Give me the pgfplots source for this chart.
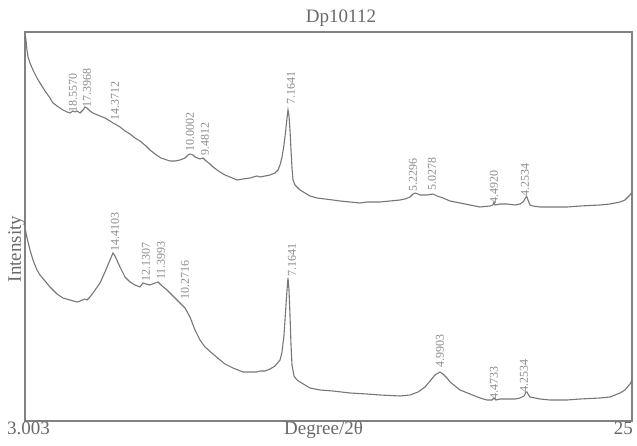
\documentclass[border=0pt]{standalone}
\usepackage{fontspec}
\setmainfont{Liberation Serif}
\usepackage{pgfplots}
\pgfplotsset{compat=1.18}
\definecolor{curvegray}{RGB}{118,118,118}
\definecolor{framegray}{RGB}{130,130,130}
\definecolor{textgray}{RGB}{105,105,105}
\definecolor{labelgray}{RGB}{140,140,140}
\begin{document}
\begin{tikzpicture}
\useasboundingbox (-25pt,-24pt) rectangle (612pt,421pt);
\begin{axis}[
  at={(0,0)}, anchor=south west,
  scale only axis, width=607pt, height=389pt,
  xmin=3.003, xmax=25, ymin=0, ymax=389,
  xtick=\empty, ytick=\empty,
  axis line style={framegray, line width=1.1pt},
  title={Dp10112},
  title style={at={(axis description cs:0.5206,1)}, anchor=base, yshift=3pt, font=\fontsize{19}{20}\selectfont, text=textgray},
  ylabel={Intensity},
  ylabel style={at={(axis description cs:0,0.442)}, anchor=base, yshift=4pt, font=\fontsize{19}{20}\selectfont, text=textgray},
  clip mode=individual,
]
% upper pattern
\addplot[curvegray, line width=1.1pt] coordinates {
(3.020,385) (3.039,381) (3.075,371) (3.112,364) (3.184,358) (3.293,351) (3.438,343)
(3.547,338) (3.728,330) (3.909,323) (4.018,318) (4.163,315) (4.271,313) (4.380,311)
(4.525,309) (4.634,308) (4.742,310) (4.815,309) (4.887,310) (4.996,308) (5.105,311)
(5.177,314) (5.250,313) (5.358,310) (5.467,308) (5.721,305) (5.902,303) (6.083,300)
(6.192,298) (6.264,297) (6.446,294) (6.627,290) (6.808,287) (6.989,283) (7.170,280)
(7.388,275) (7.533,271) (7.714,267) (7.931,263) (8.149,261) (8.258,260) (8.439,260)
(8.620,261) (8.801,263) (8.910,266) (8.982,267) (9.091,266) (9.164,264) (9.345,262)
(9.454,263) (9.526,261) (9.707,257) (9.816,254) (9.961,251) (10.070,249) (10.251,246)
(10.432,244) (10.686,241) (10.903,242) (11.157,243) (11.410,245) (11.519,244)
(11.700,245) (11.882,246) (12.063,248) (12.172,251) (12.244,256) (12.317,264)
(12.389,276) (12.461,293) (12.498,303) (12.534,311) (12.570,305) (12.606,291)
(12.643,271) (12.679,253) (12.715,241) (12.787,236) (12.969,231) (13.150,228)
(13.331,225) (13.585,223) (13.875,222) (14.164,221) (14.418,220) (14.781,219)
(15.143,218) (15.396,219) (15.868,219) (16.230,220) (16.593,221) (16.774,222)
(16.955,224) (17.064,227) (17.136,228) (17.245,227) (17.317,226) (17.571,226)
(17.788,227) (17.933,225) (18.151,223) (18.405,220) (18.767,218) (19.129,216)
(19.492,214) (19.854,215) (19.962,216) (19.999,219) (20.035,216) (20.216,217)
(20.470,217) (20.760,216) (20.941,217) (21.050,219) (21.122,222) (21.158,224)
(21.195,224) (21.231,221) (21.303,216) (21.412,215) (21.666,214) (22.028,214)
(22.644,214) (23.115,215) (23.840,216) (24.202,217) (24.565,219) (24.746,221)
(24.927,226) (25.000,229)
};
% lower pattern
\addplot[curvegray, line width=1.1pt] coordinates {
(3.020,191) (3.039,188) (3.112,179) (3.184,171) (3.293,161) (3.438,151) (3.547,146)
(3.728,140) (3.909,134) (4.163,127) (4.380,123) (4.634,121) (4.887,119) (4.996,120)
(5.177,122) (5.250,121) (5.358,124) (5.467,128) (5.721,138) (5.902,149) (6.083,161)
(6.192,168) (6.264,165) (6.446,154) (6.627,144) (6.808,139) (6.989,136) (7.170,134)
(7.279,138) (7.388,137) (7.533,136) (7.714,138) (7.823,139) (7.931,136) (8.149,131)
(8.439,123) (8.620,118) (8.801,113) (8.982,104) (9.164,91) (9.345,81) (9.526,74)
(9.816,67) (10.070,61) (10.251,57) (10.541,53) (10.903,49) (11.157,49) (11.410,49)
(11.519,50) (11.700,50) (11.882,52) (12.063,55) (12.244,61) (12.317,69) (12.389,86)
(12.461,116) (12.498,131) (12.534,143) (12.570,131) (12.606,106) (12.643,76)
(12.679,56) (12.751,45) (12.860,41) (12.969,39) (13.150,36) (13.331,33) (13.693,31)
(14.164,30) (14.781,28) (15.396,27) (15.868,26) (16.593,25) (16.955,26) (17.245,29)
(17.499,34) (17.680,40) (17.861,46) (18.042,49) (18.151,47) (18.296,43) (18.405,39)
(18.586,35) (18.767,31) (19.129,27) (19.492,23) (19.745,21) (19.926,21) (19.999,23)
(20.071,21) (20.216,22) (20.470,22) (20.760,22) (20.941,23) (21.086,25) (21.158,29)
(21.195,29) (21.231,27) (21.303,24) (21.485,23) (21.666,22) (22.028,21) (22.644,21)
(23.115,22) (23.840,23) (24.202,24) (24.565,28) (24.746,31) (24.927,37) (25.000,41)
};
% peak labels
\begin{scope}[every node/.style={rotate=90, anchor=west, inner sep=0pt, text=labelgray, font=\fontsize{12}{12}\selectfont}]
\node at (axis cs:4.742,308) {18.5570};
\node at (axis cs:5.250,313) {17.3968};
\node at (axis cs:6.264,300) {14.3712};
\node at (axis cs:8.982,269) {10.0002};
\node at (axis cs:9.526,265) {9.4812};
\node at (axis cs:12.643,316) {7.1641};
\node at (axis cs:17.064,229) {5.2296};
\node at (axis cs:17.752,230) {5.0278};
\node at (axis cs:19.999,217) {4.4920};
\node at (axis cs:21.122,224) {4.2534};
\node at (axis cs:6.264,169) {14.4103};
\node at (axis cs:7.388,139) {12.1307};
\node at (axis cs:7.931,141) {11.3993};
\node at (axis cs:8.801,121) {10.2716};
\node at (axis cs:12.679,144) {7.1641};
\node at (axis cs:18.042,53) {4.9903};
\node at (axis cs:19.999,21) {4.4733};
\node at (axis cs:21.086,28) {4.2534};
\end{scope}
\begin{scope}[every node/.style={anchor=base, inner sep=0pt, text=textgray, font=\fontsize{19}{20}\selectfont}]
\node at (axis description cs:0,0) [anchor=base west, xshift=-18pt, yshift=-13pt] {3.003};
\node at (axis description cs:1,0) [anchor=base east, xshift=1pt, yshift=-13pt] {25};
\node at (axis description cs:0.4918,0) [yshift=-13pt] {Degree/2θ};
\end{scope}
\end{axis}
\end{tikzpicture}
\end{document}
